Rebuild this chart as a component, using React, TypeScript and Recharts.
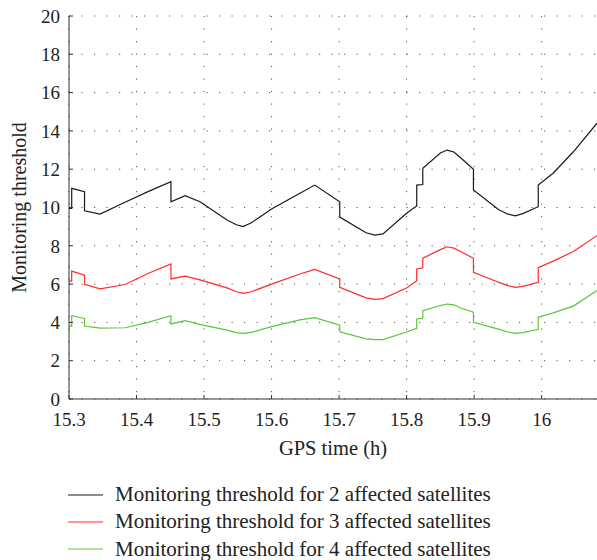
import React from 'react';
import { LineChart, Line, XAxis, YAxis, CartesianGrid } from 'recharts';

// GPS time (h); repeated values give the vertical steps
const times = [
    15.3, 15.304, 15.304, 15.323, 15.323, 15.346, 15.383, 15.417, 15.451, 15.451,
    15.472, 15.494, 15.534, 15.548, 15.558, 15.57, 15.6, 15.642, 15.664, 15.701,
    15.701, 15.74, 15.753, 15.765, 15.8, 15.815, 15.815, 15.824, 15.824, 15.85,
    15.86, 15.87, 15.88, 15.899, 15.899, 15.936, 15.95, 15.961, 15.972, 15.995,
    15.995, 16.017, 16.047, 16.082,
];

const sat2 = [
    9.95, 9.95, 11.0, 10.83, 9.83, 9.66, 10.27, 10.83, 11.35, 10.3,
    10.62, 10.3, 9.35, 9.1, 9.0, 9.2, 9.92, 10.74, 11.17, 10.3,
    9.5, 8.68, 8.56, 8.62, 9.7, 10.08, 11.17, 11.2, 12.05, 12.85,
    13.0, 12.9, 12.6, 12.0, 10.91, 9.9, 9.65, 9.56, 9.68, 10.04,
    11.17, 11.79, 12.91, 14.4,
];

const sat3 = [
    6.16, 6.16, 6.68, 6.47, 5.99, 5.75, 5.98, 6.55, 7.05, 6.27,
    6.42, 6.22, 5.8, 5.6, 5.52, 5.6, 6.0, 6.53, 6.77, 6.27,
    5.83, 5.28, 5.2, 5.24, 5.8, 6.16, 6.79, 6.85, 7.35, 7.8,
    7.95, 7.88, 7.7, 7.35, 6.62, 6.1, 5.92, 5.83, 5.88, 6.09,
    6.86, 7.2, 7.7, 8.53,
];

const sat4 = [
    3.81, 3.81, 4.35, 4.21, 3.81, 3.7, 3.72, 4.0, 4.35, 3.92,
    4.09, 3.9, 3.6, 3.47, 3.43, 3.48, 3.78, 4.13, 4.25, 3.86,
    3.51, 3.14, 3.1, 3.1, 3.5, 3.69, 4.18, 4.22, 4.61, 4.88,
    4.96, 4.92, 4.75, 4.53, 4.0, 3.65, 3.5, 3.43, 3.47, 3.64,
    4.27, 4.5, 4.85, 5.66,
];

const xTicks = [15.3, 15.4, 15.5, 15.6, 15.7, 15.8, 15.9, 16];
const yTicks = [0, 2, 4, 6, 8, 10, 12, 14, 16, 18, 20];

const seriesNames = [
    'Monitoring threshold for 2 affected satellites',
    'Monitoring threshold for 3 affected satellites',
    'Monitoring threshold for 4 affected satellites',
];
const colors = ['#1a1a1a', '#ff2a2a', '#5cc63a'];

const data = times.map((t, i) => ({ t, s2: sat2[i], s3: sat3[i], s4: sat4[i] }));

const FONT = "'Liberation Serif', 'DejaVu Serif', serif";
const axisColor = '#333';
const xTickStyle = { fill: '#222', fontSize: 19, fontFamily: FONT };
const yTickStyle = { fill: '#222', fontSize: 19, fontFamily: FONT };

const YLabel = (props: any) => {
    const vb = props.viewBox;
    const x = vb.x + 19;
    const y = vb.y + vb.height / 2;
    return (
        <text x={x} y={y} transform={`rotate(-90, ${x}, ${y})`} textAnchor="middle"
            dominantBaseline="central" fill="#222" fontSize={20} fontFamily={FONT}>
            Monitoring threshold
        </text>
    );
};

const XLabel = (props: any) => {
    const vb = props.viewBox;
    return (
        <text x={vb.x + vb.width / 2} y={vb.y + 49} textAnchor="middle"
            dominantBaseline="central" fill="#222" fontSize={20.5} fontFamily={FONT}>
            GPS time (h)
        </text>
    );
};

export default function App() {
    return (
        <div style={{ position: 'absolute', left: 0, top: 0, width: 597, height: 560, background: '#fff', fontFamily: FONT }}>
            <LineChart width={597} height={460} data={data} margin={{ top: 16, right: 0, bottom: 0, left: 0 }}
                style={{ fontFamily: FONT }}>
                <CartesianGrid stroke="#555" strokeDasharray="1.2 11.3" horizontalValues={yTicks} verticalValues={xTicks} />
                <XAxis dataKey="t" type="number" domain={[15.3, 16.082]} ticks={xTicks} allowDataOverflow
                    height={61} stroke={axisColor} tickSize={-4} tickMargin={18} interval={0}
                    tick={xTickStyle} tickFormatter={(v) => String(v)} label={XLabel} />
                <XAxis xAxisId="top" orientation="top" dataKey="t" type="number" domain={[15.3, 16.082]}
                    ticks={xTicks} allowDataOverflow height={0} stroke={axisColor} tickSize={-4} tick={false} />
                <YAxis type="number" domain={[0, 20]} ticks={yTicks} width={69} stroke={axisColor}
                    tickSize={-4} tickMargin={13} interval={0} tick={yTickStyle} label={YLabel} />
                <YAxis yAxisId="right" orientation="right" type="number" domain={[0, 20]} ticks={yTicks}
                    width={0} stroke={axisColor} tickSize={-4} tick={false} />
                <Line dataKey="s2" stroke={colors[0]} strokeWidth={1.2} dot={false} isAnimationActive={false} />
                <Line dataKey="s3" stroke={colors[1]} strokeWidth={1.2} dot={false} isAnimationActive={false} />
                <Line dataKey="s4" stroke={colors[2]} strokeWidth={1.2} dot={false} isAnimationActive={false} />
            </LineChart>
            <div style={{ position: 'absolute', left: 68, top: 481, fontSize: 21, color: '#222' }}>
                {seriesNames.map((name, i) => (
                    <div key={name} style={{ display: 'flex', alignItems: 'center', height: 27.3 }}>
                        <svg width={35} height={4} style={{ marginRight: 12 }}>
                            <line x1={0} y1={2} x2={35} y2={2} stroke={colors[i]} strokeWidth={1.2} />
                        </svg>
                        <span style={{ whiteSpace: 'nowrap' }}>{name}</span>
                    </div>
                ))}
            </div>
        </div>
    );
}
